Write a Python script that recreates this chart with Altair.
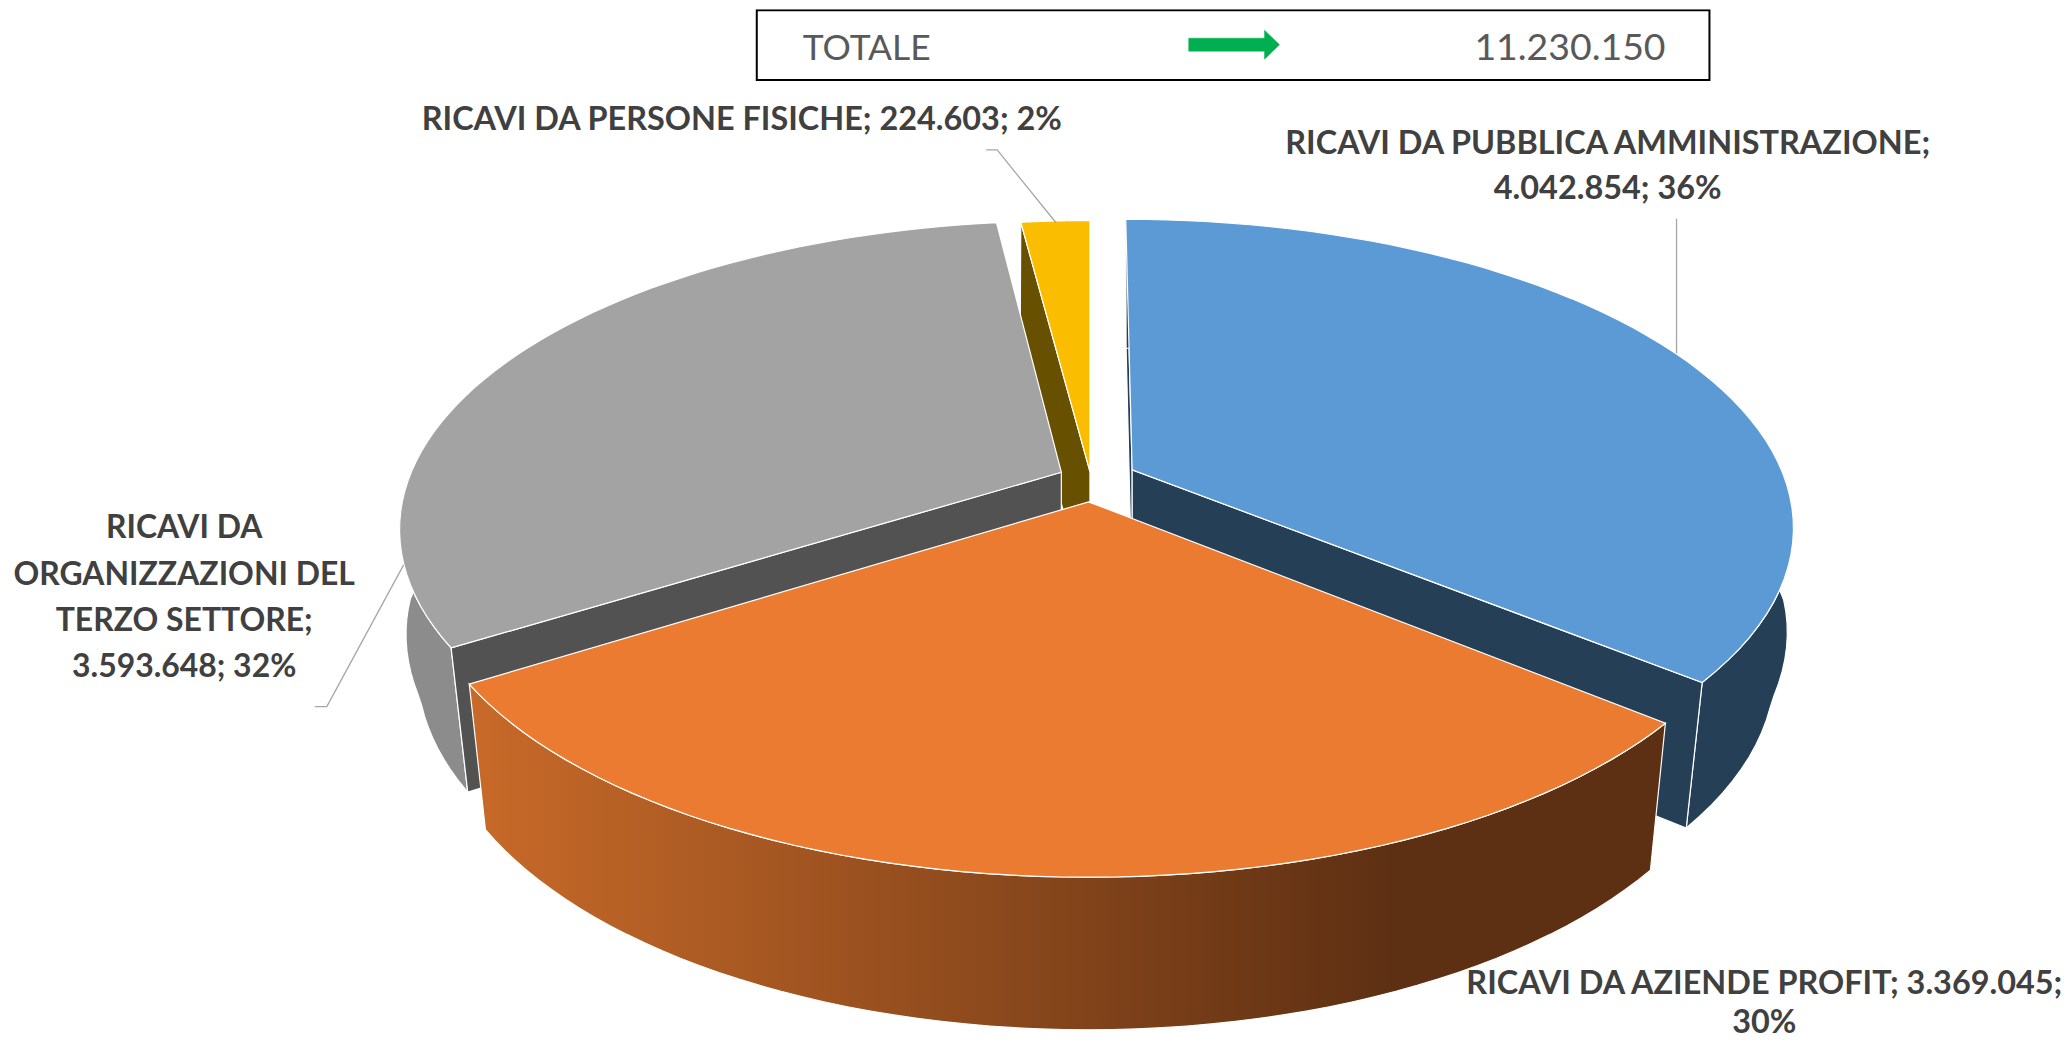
import math
import altair as alt

NAMES = ["RICAVI DA PUBBLICA AMMINISTRAZIONE", "RICAVI DA AZIENDE PROFIT",
         "RICAVI DA ORGANIZZAZIONI DEL TERZO SETTORE", "RICAVI DA PERSONE FISICHE"]
VALUES = [4042854, 3369045, 3593648, 224603]
TOTAL_LABEL = "TOTALE"
TOTAL = 11230150
TOP_COLORS = ["#5b9ad5", "#eb7b30", "#a3a3a3", "#fbbd00"]
WALL_COLORS = ["#243f56", "#8c8c8c", "#8c8c8c", "#675000"]
RADIAL_COLORS = ["#243f56", "#5e3013", "#525252", "#675000"]
EXPLODE = [(0.065, -0.036), (-0.002, 0.07), (-0.044, -0.028), (0.0, -0.03)]

# camera of the tilted pie
VX, Y0, A, B, P = 1090.0, 480.5, 655.0, 300.0, 0.18
PAGE = 8
XFIX = 2.6


def fmt(v):
    return f"{v:,}".replace(",", ".")


def top(X, Y):
    s = 1 / (1 - P * Y)
    return (VX + A * X * s, Y0 + B * Y * s)


def bottom(X, Y):
    x, y = top(X, Y)
    k = min(1.01, 0.974 + max(0.0, 560 - y) * 0.00035)
    return (VX + (x - VX) * k, y + 121.3 + 0.036 * y)


def arc(i, a0, a1, fn, n=60):
    ex, ey = EXPLODE[i]
    pts = []
    for k in range(n + 1):
        t = a0 + (a1 - a0) * k / n
        pts.append(fn(math.sin(t) + ex, -math.cos(t) + ey))
    return pts


def shape(pts, fill=None, stroke="#ffffff", sw=1.2, closed=True):
    pts = [[x - PAGE + XFIX, y - PAGE] for x, y in pts]
    if closed:
        pts = pts + [pts[0]]
        geom = {"type": "Polygon", "coordinates": [pts]}
    else:
        geom = {"type": "LineString", "coordinates": pts}
    feat = {"type": "Feature", "properties": {}, "geometry": geom}
    kw = {"stroke": stroke, "strokeWidth": sw}
    if fill is None:
        kw["filled"] = False
    else:
        kw["fill"] = fill
    return (alt.Chart(alt.InlineData(values=[feat])).mark_geoshape(**kw)
            .project(type="identity", scale=1, translate=[0, 0]))


def text(lines, cx, ys, size, weight="bold", color="#404040", align="center", font="Lato"):
    out = []
    for line, y in zip(lines, ys):
        out.append(alt.Chart(alt.InlineData(values=[{"t": line}]))
                   .mark_text(fontSize=size, fontWeight=weight, font=font, color=color,
                              align=align, baseline="middle")
                   .encode(text="t:N", x=alt.value(cx - PAGE + XFIX), y=alt.value(y - PAGE + 2.5)))
    return out


total = sum(VALUES)
angles = [0.0]
for v in VALUES:
    angles.append(angles[-1] + v / total * 2 * math.pi)


def outer_wall(i, fill=None):
    a0, a1 = angles[i], angles[i + 1]
    return shape(arc(i, a0, a1, top) + arc(i, a0, a1, bottom)[::-1], fill or WALL_COLORS[i])


def top_face(i):
    ex, ey = EXPLODE[i]
    return shape([top(ex, ey)] + arc(i, angles[i], angles[i + 1], top), TOP_COLORS[i])


def radial_wall(i, a):
    ex, ey = EXPLODE[i]
    X, Y = math.sin(a) + ex, -math.cos(a) + ey
    return shape([top(ex, ey), top(X, Y), bottom(X, Y), bottom(ex, ey)], RADIAL_COLORS[i])


orange_grad = alt.LinearGradient(
    gradient="linear",
    stops=[alt.GradientStop(offset=0, color="#c86a29"),
           alt.GradientStop(offset=0.77, color="#5e3013"),
           alt.GradientStop(offset=1, color="#5e3013")],
    x1=0, x2=1, y1=0, y2=0)

layers = [
    radial_wall(3, angles[3]),
    radial_wall(0, angles[0]),
    outer_wall(0),
    radial_wall(0, angles[1]),
    outer_wall(2),
    radial_wall(2, angles[2]),
    top_face(2),
    top_face(3),
    top_face(0),
    outer_wall(1, orange_grad),
    top_face(1),
]

LEADER = "#a6a6a6"
layers += [
    shape([(1056, 222), (997, 149), (986, 149)], None, LEADER, 1.3, closed=False),
    shape([(1678, 218), (1678, 353)], None, LEADER, 1.3, closed=False),
    shape([(402, 565), (325, 707), (313, 707)], None, LEADER, 1.3, closed=False),
    shape([(756, 9), (1711, 9), (1711, 79), (756, 79)], None, "#000000", 2),
    shape([(1189, 37), (1265, 37), (1265, 29), (1280, 43.5), (1265, 58), (1265, 50), (1189, 50)],
          "#00b050", "#00b050", 0.5),
]


def pct(i):
    return f"{round(VALUES[i] / total * 100)}%"


layers += text([TOTAL_LABEL], 802, [45], 35.5, "normal", "#595959", "left")
layers += text([fmt(TOTAL)], 1667, [45], 37.5, "normal", "#595959", "right")
layers += text([f"{NAMES[3]}; {fmt(VALUES[3])}; {pct(3)}"], 741, [117], 32.5)
layers += text([f"{NAMES[0]};", f"{fmt(VALUES[0])}; {pct(0)}"], 1609, [141, 186], 32.5)
layers += text([f"{NAMES[1]}; {fmt(VALUES[1])};", pct(1)], 1766, [983, 1022], 32.5)
layers += text(["RICAVI DA", "ORGANIZZAZIONI DEL", "TERZO SETTORE;", f"{fmt(VALUES[2])}; {pct(2)}"],
               182, [526, 573, 619, 665], 32)

chart = alt.layer(*layers).properties(
    width=2058, height=1034, padding=0, autosize=alt.AutoSizeParams(type="none")
).configure_view(stroke=None)
chart.save("out.html", embed_options={"renderer": "svg", "actions": False})
